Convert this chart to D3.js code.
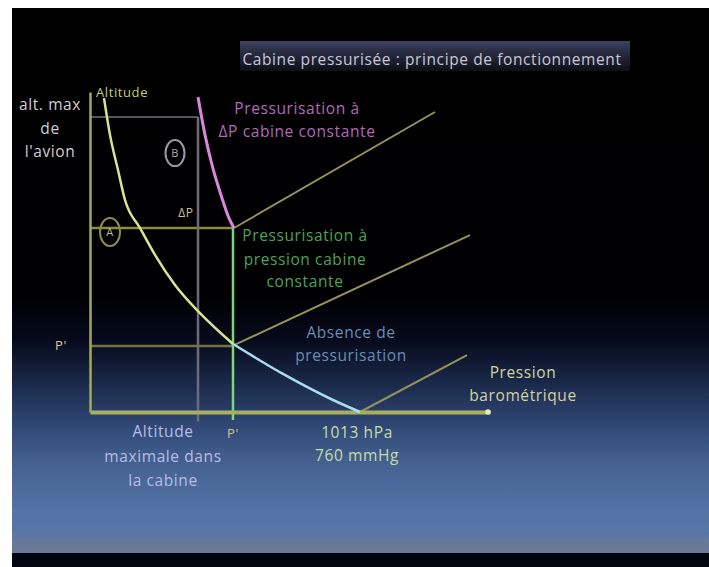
<!DOCTYPE html>
<html><head><meta charset="utf-8">
<script src="https://cdn.jsdelivr.net/npm/d3@7"></script>
<style>
html,body{margin:0;padding:0;background:#fff;}
svg{display:block;}
text{font-family:"Open Sans","DejaVu Sans",sans-serif;letter-spacing:0.6px;}
</style></head>
<body>
<svg id="chart" width="709" height="567"></svg>
<script>
// ---- data (schematic units: pressure 0-100, altitude 0-100) ----
const yellowPressure = [3.5, 5, 7, 8.75, 12.5, 16.25, 21.25, 27.5, 35.75];
const yellowAltitude = [98.1, 86.6, 75.6, 66.25, 57.5, 49.1, 39.7, 30.9, 21.25];
const cyanPressure = [35.75, 48.25, 60.75, 67.5];
const cyanAltitude = [21.25, 11.9, 3.75, 0];
const purplePressure = [27, 28.75, 30.5, 32.75, 34.75, 36];
const purpleAltitude = [98.4, 86.6, 77.2, 67.8, 60.6, 57.5];
const levelNames = ["altMax", "deltaP", "pPrime"];
const levelAltitude = [92.2, 57.5, 20.6];
const levelEndPressure = [27, 35.75, 35.75];
const verticalPressure = [27, 35.75];       // cabin max altitude line, P' line
const verticalTop = [92.2, 57.5];
const diagStart = [[36, 57.5], [36, 20.9], [67.5, 0]];
const diagEnd = [[86.25, 93.75], [95, 55.3], [94.25, 17.8]];
const titleText = "Cabine pressurisée : principe de fonctionnement";
const leftLabel = ["alt. max", "de", "l'avion"];
const purpleLabel = ["Pressurisation à", "ΔP cabine constante"];
const greenLabel = ["Pressurisation à", "pression cabine", "constante"];
const blueLabel = ["Absence de", "pressurisation"];
const xAxisLabel = ["Pression", "barométrique"];
const seaLevelLabel = ["1013 hPa", "760 mmHg"];
const cabinLabel = ["Altitude", "maximale dans", "la cabine"];

// ---- drawing ----
const svg = d3.select("#chart");
const defs = svg.append("defs");
const bg = defs.append("linearGradient").attr("id","bg").attr("x1",0).attr("y1",0).attr("x2",0).attr("y2",1);
[[0,"#000000"],[0.53,"#000003"],[0.61,"#070a1c"],[0.68,"#182645"],[0.756,"#2d4370"],[0.83,"#43608f"],[0.92,"#5372a5"],[0.965,"#5877a8"],[0.976,"#66799a"],[1,"#6b7a95"]]
  .forEach(s=>bg.append("stop").attr("offset",s[0]).attr("stop-color",s[1]));
const tg = defs.append("linearGradient").attr("id","tb").attr("x1",0).attr("y1",0).attr("x2",0).attr("y2",1);
[[0,"#3e4360"],[0.3,"#2c2f46"],[1,"#0e0f1a"]].forEach(s=>tg.append("stop").attr("offset",s[0]).attr("stop-color",s[1]));

svg.append("rect").attr("x",12).attr("y",8).attr("width",697).attr("height",545).attr("fill","url(#bg)");
svg.append("rect").attr("x",12).attr("y",553).attr("width",697).attr("height",14).attr("fill","#03050f");

// title
svg.append("rect").attr("x",240).attr("y",41).attr("width",390).attr("height",30).attr("fill","url(#tb)");
svg.append("text").attr("x",432).attr("y",65).attr("text-anchor","middle")
  .attr("font-size",15.5).attr("fill","#c8c8d6").text(titleText);

const x = d3.scaleLinear().domain([0,100]).range([90,490]);
const y = d3.scaleLinear().domain([0,100]).range([412,92]);

const g = svg.append("g");

// reference horizontals
levelNames.forEach((n,i)=>{
  g.append("line").attr("x1",x(0)).attr("x2",x(levelEndPressure[i]))
   .attr("y1",y(levelAltitude[i])).attr("y2",y(levelAltitude[i]))
   .attr("stroke", i===0 ? "#55555e" : (i===1 ? "#8c8c42" : "#74743c"))
   .attr("stroke-width", i===0 ? 2 : 2.5);
});
// verticals
g.append("line").attr("x1",x(verticalPressure[0])).attr("x2",x(verticalPressure[0]))
  .attr("y1",y(verticalTop[0])).attr("y2",y(-3)).attr("stroke","#6c6c78").attr("stroke-width",2.5);
g.append("line").attr("x1",x(verticalPressure[1])).attr("x2",x(verticalPressure[1]))
  .attr("y1",y(verticalTop[1])).attr("y2",y(-2.5)).attr("stroke","#78d878").attr("stroke-width",2.5);

// diagonals
diagStart.forEach((s,i)=>{
  g.append("line").attr("x1",x(s[0])).attr("y1",y(s[1])).attr("x2",x(diagEnd[i][0])).attr("y2",y(diagEnd[i][1]))
   .attr("stroke","#94925a").attr("stroke-width",2);
});

// axes
const xAxis = g.append("g").attr("transform",`translate(0,${y(0)})`)
  .call(d3.axisBottom(x).tickValues([]).tickSizeOuter(0));
xAxis.select(".domain").attr("stroke","#a8b060").attr("stroke-width",4);
const yAxis = g.append("g").attr("transform",`translate(${x(0)},0)`)
  .call(d3.axisLeft(y).tickValues([]).tickSizeOuter(0));
yAxis.select(".domain").attr("stroke","#a4a85c").attr("stroke-width",2.5);
g.append("circle").attr("cx",x(99.5)).attr("cy",y(0)).attr("r",2.8).attr("fill","#e4f0a8");

// curves
const line = d3.line().x(d=>x(d[0])).y(d=>y(d[1])).curve(d3.curveMonotoneX);
const zip = (a,b)=>a.map((v,i)=>[v,b[i]]);
g.append("path").attr("d",line(zip(yellowPressure,yellowAltitude))).attr("fill","none")
  .attr("stroke","#dce294").attr("stroke-width",2.5);
g.append("path").attr("d",line(zip(cyanPressure,cyanAltitude))).attr("fill","none")
  .attr("stroke","#a8dcf0").attr("stroke-width",2.5);
g.append("path").attr("d",line(zip(purplePressure,purpleAltitude))).attr("fill","none")
  .attr("stroke","#d888d8").attr("stroke-width",3);

// circled zones
g.append("ellipse").attr("cx",x(21.25)).attr("cy",y(80.9)).attr("rx",9.5).attr("ry",13)
  .attr("fill","none").attr("stroke","#9a98a0").attr("stroke-width",2);
g.append("text").attr("x",x(21.25)).attr("y",y(80.9)+4).attr("text-anchor","middle")
  .attr("font-size",11).attr("fill","#b0aab8").text("B");
g.append("ellipse").attr("cx",x(5)).attr("cy",y(56.25)).attr("rx",10).attr("ry",14)
  .attr("fill","none").attr("stroke","#8c8c4c").attr("stroke-width",2);
g.append("text").attr("x",x(5)).attr("y",y(56.25)+4).attr("text-anchor","middle")
  .attr("font-size",11).attr("fill","#b8b89a").text("A");

// labels
function block(lines, cx, ys, color, size, anchor){
  lines.forEach((t,i)=>{
    g.append("text").attr("x",x(cx)).attr("y",y(ys[i])).attr("text-anchor",anchor||"middle")
     .attr("font-size",size).attr("fill",color).text(t);
  });
}
block(["Altitude"], 1.5, [98.4], "#c4cc78", 13, "start");
block(leftLabel, -10, [94.4, 86.9, 79.7], "#d4ccd4", 15.5);
block(["ΔP"], 24, [61], "#c8c498", 12);
block(["P'"], -7.25, [19.4], "#d0cca0", 13);
block(["P'"], 35.75, [-8.1], "#c8c890", 13);
block(purpleLabel, 51.75, [93.1, 85.9], "#b468b8", 15.5);
block(greenLabel, 53.75, [53.4, 45.9, 39.1], "#4aa455", 15.5);
block(blueLabel, 65.25, [23.1, 15.9], "#6a8cb4", 15.5);
block(xAxisLabel, 108.25, [10.6, 3.4], "#d4d4a4", 15.5);
block(seaLevelLabel, 66.75, [-8.1, -15.3], "#c8dcaa", 15.5);
block(cabinLabel, 18.25, [-7.8, -15.6, -23.1], "#bcbce6", 15.5);
</script>
</body></html>
